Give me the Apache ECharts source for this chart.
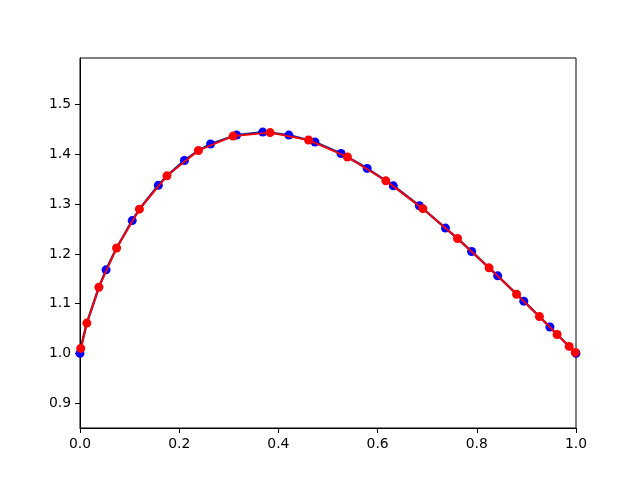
<!DOCTYPE html>
<html>
<head>
<meta charset="utf-8">
<script src="https://cdn.jsdelivr.net/npm/echarts@6/dist/echarts.min.js"></script>
<style>html,body{margin:0;padding:0;background:#fff;}#c{width:640px;height:480px;}</style>
</head>
<body>
<div id="c"></div>
<script>
// Blue points (evenly spaced)
const blueX = [0, 0.0526, 0.1053, 0.1579, 0.2105, 0.2632, 0.3158, 0.3684, 0.4211, 0.4737,
               0.5263, 0.5789, 0.6316, 0.6842, 0.7368, 0.7895, 0.8421, 0.8947, 0.9474, 1.0];
const blueY = [1.000, 1.168, 1.267, 1.338, 1.388, 1.421, 1.439, 1.445, 1.439, 1.425,
               1.402, 1.372, 1.337, 1.297, 1.252, 1.205, 1.156, 1.105, 1.053, 1.000];
// Red points (clustered toward the ends)
const redX = [0.0015, 0.0138, 0.0381, 0.0737, 0.1198, 0.1753, 0.2388, 0.3087, 0.3833, 0.4608,
              0.5392, 0.6167, 0.6913, 0.7612, 0.8247, 0.8802, 0.9263, 0.9619, 0.9862, 0.9985];
const redY = [1.010, 1.061, 1.133, 1.212, 1.290, 1.357, 1.408, 1.437, 1.444, 1.429,
              1.395, 1.347, 1.291, 1.231, 1.172, 1.119, 1.074, 1.038, 1.014, 1.002];
const xTicks = [0, 0.2, 0.4, 0.6, 0.8, 1.0];
const yTicks = [0.9, 1.0, 1.1, 1.2, 1.3, 1.4, 1.5];

const bluePts = blueX.map((x, i) => [x, blueY[i]]);
const redPts = redX.map((x, i) => [x, redY[i]]);
// underlying curve through all read points, sorted by x
const curvePts = bluePts.concat(redPts).sort((a, b) => a[0] - b[0]);

const chart = echarts.init(document.getElementById('c'), null, {renderer: 'canvas'});
const font = {fontFamily: 'DejaVu Sans', fontSize: 13.9, color: '#000'};
chart.setOption({
  animation: false,
  backgroundColor: '#fff',
  grid: {left: 80, right: 64, top: 58, bottom: 52, show: true, borderColor: '#000', borderWidth: 1, backgroundColor: 'transparent'},
  xAxis: {
    type: 'value', min: 0, max: 1, interval: 0.2,
    axisLine: {show: true, onZero: false, lineStyle: {color: '#000', width: 1}},
    axisTick: {show: true, inside: false, length: 5, lineStyle: {color: '#000'}, customValues: xTicks},
    axisLabel: Object.assign({margin: 9, formatter: v => v.toFixed(1), customValues: xTicks}, font),
    splitLine: {show: false}
  },
  yAxis: {
    type: 'value', min: 0.85, max: 1.594,
    axisLine: {show: true, onZero: false, lineStyle: {color: '#000', width: 1}},
    axisTick: {show: true, inside: false, length: 5, lineStyle: {color: '#000'}, customValues: yTicks},
    axisLabel: Object.assign({margin: 9, formatter: v => v.toFixed(1), customValues: yTicks}, font),
    splitLine: {show: false}
  },
  series: [
    {
      type: 'line', z: 1, data: curvePts, showSymbol: false, symbol: 'none',
      lineStyle: {color: '#22228a', width: 2.4}
    },
    {
      type: 'line', z: 2, data: bluePts,
      symbol: 'circle', symbolSize: 9, showSymbol: true,
      lineStyle: {width: 0, opacity: 0},
      itemStyle: {color: '#0000ff', borderWidth: 0}
    },
    {
      type: 'line', z: 3, data: redPts,
      symbol: 'circle', symbolSize: 9, showSymbol: true,
      lineStyle: {color: '#ff0000', width: 1.8},
      itemStyle: {color: '#ff0000', borderWidth: 0}
    }
  ]
});
</script>
</body>
</html>
